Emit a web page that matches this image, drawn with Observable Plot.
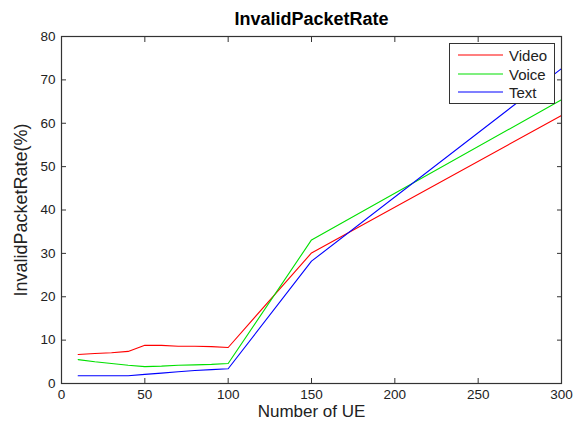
<!DOCTYPE html>
<html>
<head>
<meta charset="utf-8">
<script src="https://cdn.jsdelivr.net/npm/d3@7"></script>
<script src="https://cdn.jsdelivr.net/npm/@observablehq/plot@0.6"></script>
<style>
  html, body { margin: 0; padding: 0; background: #fff; }
  #wrap { position: relative; width: 577px; height: 421px; font-family: "Liberation Sans", Arial, sans-serif; }
  #legend { position: absolute; left: 449px; top: 43px; width: 106px; height: 61px; border: 1px solid #333; background: #fff; box-sizing: border-box; }
  .item { position: absolute; left: 0; height: 18px; display: flex; align-items: center; font-size: 15px; color: #222; }
  .item svg { margin-left: 8px; margin-right: 6px; display: block; }
</style>
</head>
<body>
<div id="wrap"></div>
<script>
const ueCounts = [10, 20, 30, 40, 50, 60, 70, 80, 90, 100, 150, 300];
const seriesNames = ["Video", "Voice", "Text"];
const seriesColors = ["#ff0000", "#00e000", "#0000ff"];
const videoRate = [6.7, 6.9, 7.1, 7.4, 8.8, 8.8, 8.6, 8.6, 8.5, 8.3, 30.1, 61.8];
const voiceRate = [5.5, 5.0, 4.6, 4.2, 3.9, 4.0, 4.2, 4.3, 4.4, 4.6, 33.1, 65.4];
const textRate  = [1.8, 1.8, 1.8, 1.8, 2.1, 2.4, 2.7, 3.0, 3.2, 3.4, 28.2, 72.6];
const xTicks = [0, 50, 100, 150, 200, 250, 300];
const yTicks = [0, 10, 20, 30, 40, 50, 60, 70, 80];
const titleText = "InvalidPacketRate";
const xLabel = "Number of UE";
const yLabel = "InvalidPacketRate(%)";

const allSeries = [videoRate, voiceRate, textRate];
const rows = [];
seriesNames.forEach((name, i) => {
  ueCounts.forEach((u, j) => rows.push({series: name, ue: u, rate: allSeries[i][j]}));
});

const axisColor = "#333";
const chart = Plot.plot({
  width: 577,
  height: 421,
  marginLeft: 61,
  marginRight: 16,
  marginTop: 36,
  marginBottom: 38,
  style: {fontFamily: "'Liberation Sans', Arial, sans-serif", fontSize: "13px", color: "#222", background: "#fff"},
  x: {domain: [0, 300]},
  y: {domain: [0, 80]},
  color: {domain: seriesNames, range: seriesColors},
  marks: [
    Plot.line(rows, {x: "ue", y: "rate", z: "series", stroke: "series", strokeWidth: 1.1}),
    Plot.frame({stroke: axisColor, strokeWidth: 1.2}),
    // inward ticks, bottom / top / left / right
    Plot.axisX(xTicks, {anchor: "bottom", tickSize: 5, dy: -5, text: null, stroke: axisColor, label: null}),
    Plot.axisX(xTicks, {anchor: "top", tickSize: 5, dy: 5, text: null, stroke: axisColor, label: null}),
    Plot.axisY(yTicks, {anchor: "left", tickSize: 5, dx: 5, text: null, stroke: axisColor, label: null}),
    Plot.axisY(yTicks, {anchor: "right", tickSize: 5, dx: -5, text: null, stroke: axisColor, label: null}),
    // tick labels
    Plot.axisX(xTicks, {anchor: "bottom", tickSize: 0, tickPadding: 6, fontSize: 13.5, label: null}),
    Plot.axisY(yTicks, {anchor: "left", tickSize: 0, tickPadding: 6, fontSize: 13.5, label: null}),
    // titles
    Plot.text([titleText], {frameAnchor: "top", dy: -17, lineAnchor: "middle", textAnchor: "middle", fontWeight: "bold", fontSize: 18, fill: "#000"}),
    Plot.text([xLabel], {frameAnchor: "bottom", dy: 28, lineAnchor: "middle", textAnchor: "middle", fontSize: 17, fill: "#222"}),
    Plot.text([yLabel], {frameAnchor: "left", dx: -40, lineAnchor: "middle", textAnchor: "middle", rotate: -90, fontSize: 18, fill: "#222"})
  ]
});

const wrap = document.getElementById("wrap");
wrap.appendChild(chart);

const legend = document.createElement("div");
legend.id = "legend";
const tops = [2, 21, 39];
const svgNS = "http://www.w3.org/2000/svg";
seriesNames.forEach((name, i) => {
  const item = document.createElement("div");
  item.className = "item";
  item.style.top = tops[i] + "px";
  const sw = document.createElementNS(svgNS, "svg");
  sw.setAttribute("width", "45");
  sw.setAttribute("height", "4");
  const ln = document.createElementNS(svgNS, "line");
  ln.setAttribute("x1", "0"); ln.setAttribute("x2", "45");
  ln.setAttribute("y1", "2"); ln.setAttribute("y2", "2");
  ln.setAttribute("stroke", seriesColors[i]);
  ln.setAttribute("stroke-width", "1.1");
  sw.appendChild(ln);
  const label = document.createElement("span");
  label.textContent = name;
  item.appendChild(sw);
  item.appendChild(label);
  legend.appendChild(item);
});
wrap.appendChild(legend);
</script>
</body>
</html>
